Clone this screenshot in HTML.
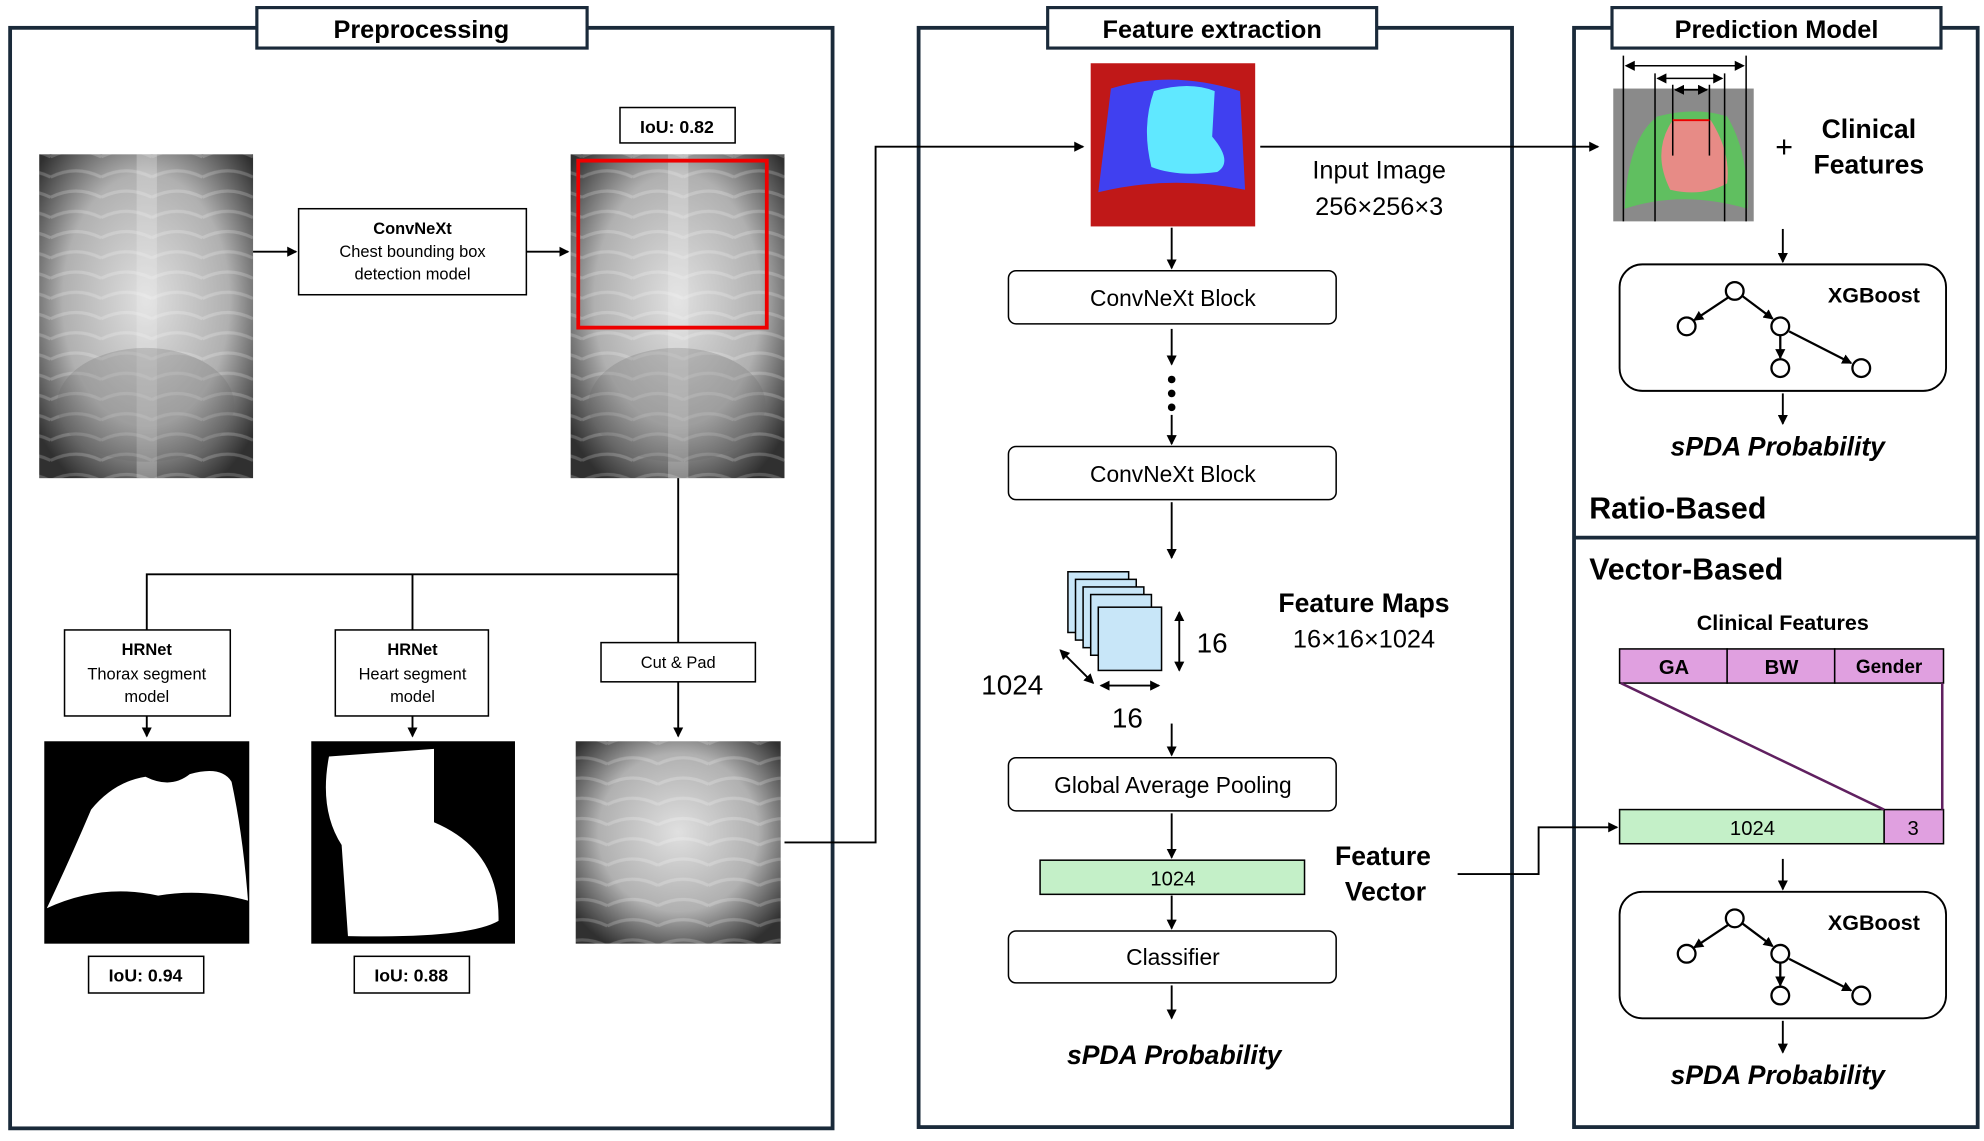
<!DOCTYPE html>
<html><head><meta charset="utf-8"><style>
html,body{margin:0;padding:0;background:#fff;width:1984px;height:1141px;overflow:hidden}
svg{display:block}
text{font-family:"Liberation Sans",sans-serif;fill:#000}
</style></head><body>
<svg width="1984" height="1141" viewBox="0 0 1568 902" preserveAspectRatio="none" xmlns="http://www.w3.org/2000/svg">
<defs>
<marker id="a" markerWidth="8" markerHeight="8" refX="7" refY="4" orient="auto-start-reverse" markerUnits="userSpaceOnUse"><path d="M0,0 L8,4 L0,8 z" fill="#000"/></marker>
<radialGradient id="xr" cx="50%" cy="45%" r="65%"><stop offset="0" stop-color="#e0e0e0"/><stop offset="0.6" stop-color="#b0b0b0"/><stop offset="1" stop-color="#303030"/></radialGradient>
<pattern id="rib" width="40" height="16" patternUnits="userSpaceOnUse"><path d="M0,12 Q20,2 40,12" stroke="#fff" stroke-width="2.5" fill="none" opacity="0.2"/></pattern>
</defs>
<g fill="none" stroke="#1a2a3a" stroke-width="3">
<rect x="8" y="22" width="650" height="870"/>
<rect x="726" y="22" width="469" height="869"/>
<rect x="1244" y="22" width="319" height="869"/>
<line x1="1244" y1="425" x2="1563" y2="425"/>
</g>
<g fill="#fff" stroke="#1a2a3a" stroke-width="2.5">
<rect x="203" y="6" width="261" height="32"/>
<rect x="828" y="6" width="260" height="32"/>
<rect x="1274" y="6" width="260" height="32"/>
</g>
<g font-size="20" font-weight="bold" text-anchor="middle">
<text x="333" y="30">Preprocessing</text>
<text x="958" y="30">Feature extraction</text>
<text x="1404" y="30">Prediction Model</text>
</g>
<g id="xray1">
<rect x="31" y="122" width="169" height="256" fill="url(#xr)"/><rect x="31" y="122" width="169" height="256" fill="url(#rib)"/>
<rect x="108" y="122" width="16" height="256" fill="#eee" opacity="0.3"/>
<ellipse cx="115" cy="320" rx="70" ry="45" fill="#666" opacity="0.25"/>
</g>
<use href="#xray1" transform="translate(420,0)"/>
<rect x="457" y="127" width="149" height="132" fill="none" stroke="#e00" stroke-width="3"/>
<rect x="490" y="85" width="91" height="28" fill="#fff" stroke="#000" stroke-width="1.2"/>
<text x="535" y="105" font-size="14" font-weight="bold" text-anchor="middle">IoU: 0.82</text>
<rect x="236" y="165" width="180" height="68" fill="#fff" stroke="#000" stroke-width="1.2"/>
<text x="326" y="185" font-size="13" font-weight="bold" text-anchor="middle">ConvNeXt</text>
<text x="326" y="203" font-size="13" text-anchor="middle">Chest bounding box</text>
<text x="326" y="221" font-size="13" text-anchor="middle">detection model</text>
<g stroke="#000" stroke-width="1.5" fill="none">
<line x1="200" y1="199" x2="234" y2="199" marker-end="url(#a)"/>
<line x1="416" y1="199" x2="449" y2="199" marker-end="url(#a)"/>
<polyline points="536,378 536,454 116,454 116,498"/>
<line x1="326" y1="454" x2="326" y2="498"/>
<line x1="536" y1="454" x2="536" y2="508"/>
<line x1="116" y1="566" x2="116" y2="582" marker-end="url(#a)"/>
<line x1="326" y1="566" x2="326" y2="582" marker-end="url(#a)"/>
<line x1="536" y1="539" x2="536" y2="582" marker-end="url(#a)"/>
<polyline points="620,666 692,666 692,116 856,116" marker-end="url(#a)"/>
<line x1="996" y1="116" x2="1263" y2="116" marker-end="url(#a)"/>
<polyline points="1152,691 1216,691 1216,654 1278,654" marker-end="url(#a)"/>
</g>
<g fill="#fff" stroke="#000" stroke-width="1.2">
<rect x="51" y="498" width="131" height="68"/><rect x="265" y="498" width="121" height="68"/><rect x="475" y="508" width="122" height="31"/>
<rect x="70" y="756" width="91" height="29"/><rect x="280" y="756" width="91" height="29"/>
</g>
<g font-size="13" text-anchor="middle">
<text x="116" y="518" font-weight="bold">HRNet</text><text x="116" y="537">Thorax segment</text><text x="116" y="555">model</text>
<text x="326" y="518" font-weight="bold">HRNet</text><text x="326" y="537">Heart segment</text><text x="326" y="555">model</text>
<text x="536" y="528">Cut &amp; Pad</text>
<text x="115" y="776" font-size="14" font-weight="bold">IoU: 0.94</text>
<text x="325" y="776" font-size="14" font-weight="bold">IoU: 0.88</text>
</g>
<rect x="35" y="586" width="162" height="160" fill="#000"/>
<path d="M37,718 Q55,680 72,640 Q90,618 115,614 Q135,624 150,612 Q175,605 183,618 Q192,660 196,712 Q160,702 125,708 Q80,698 37,718z" fill="#fff"/>
<rect x="246" y="586" width="161" height="160" fill="#000"/>
<path d="M260,598 L343,592 L343,650 Q395,672 394,728 Q370,742 275,740 L270,668 Q252,640 260,598z" fill="#fff"/>
<rect x="455" y="586" width="162" height="160" fill="url(#xr)"/><rect x="455" y="586" width="162" height="160" fill="url(#rib)"/>
<rect x="862" y="50" width="130" height="129" fill="#c01818"/>
<path d="M878,70 Q925,55 980,72 L984,150 Q925,138 868,152z" fill="#4040f0"/>
<path d="M912,72 Q940,64 960,72 L958,108 Q975,128 962,136 Q930,140 910,132 Q902,100 912,72z" fill="#60e8ff"/>
<text x="1090" y="141" font-size="20" text-anchor="middle">Input Image</text>
<text x="1090" y="170" font-size="20" text-anchor="middle">256×256×3</text>
<g fill="#fff" stroke="#000" stroke-width="1.2">
<rect x="797" y="214" width="259" height="42" rx="6"/><rect x="797" y="353" width="259" height="42" rx="6"/>
<rect x="797" y="599" width="259" height="42" rx="6"/><rect x="797" y="736" width="259" height="41" rx="6"/>
</g>
<rect x="822" y="680" width="209" height="27" fill="#c4f0c8" stroke="#000" stroke-width="1.2"/>
<g font-size="18" text-anchor="middle">
<text x="927" y="242">ConvNeXt Block</text><text x="927" y="381">ConvNeXt Block</text>
<text x="927" y="627">Global Average Pooling</text><text x="927" y="763">Classifier</text>
<text x="927" y="700" font-size="16">1024</text>
</g>
<g stroke="#000" stroke-width="1.5">
<line x1="926" y1="180" x2="926" y2="212" marker-end="url(#a)"/>
<line x1="926" y1="260" x2="926" y2="288" marker-end="url(#a)"/>
<line x1="926" y1="328" x2="926" y2="351" marker-end="url(#a)"/>
<line x1="926" y1="397" x2="926" y2="441" marker-end="url(#a)"/>
<line x1="926" y1="572" x2="926" y2="597" marker-end="url(#a)"/>
<line x1="926" y1="643" x2="926" y2="678" marker-end="url(#a)"/>
<line x1="926" y1="708" x2="926" y2="734" marker-end="url(#a)"/>
<line x1="926" y1="779" x2="926" y2="805" marker-end="url(#a)"/>
<line x1="932" y1="484" x2="932" y2="530" marker-start="url(#a)" marker-end="url(#a)"/>
<line x1="838" y1="514" x2="864" y2="540" marker-start="url(#a)" marker-end="url(#a)"/>
<line x1="870" y1="542" x2="916" y2="542" marker-start="url(#a)" marker-end="url(#a)"/>
</g>
<g fill="#000"><circle cx="926" cy="300" r="3"/><circle cx="926" cy="311" r="3"/><circle cx="926" cy="322" r="3"/></g>
<g fill="#c8e6f8" stroke="#000" stroke-width="1.2">
<rect x="844" y="452" width="48" height="48"/><rect x="850" y="458" width="48" height="48"/><rect x="856" y="464" width="48" height="48"/><rect x="862" y="470" width="48" height="48"/><rect x="868" y="480" width="50" height="50"/>
</g>
<text x="958" y="516" font-size="22" text-anchor="middle">16</text>
<text x="800" y="549" font-size="22" text-anchor="middle">1024</text>
<text x="891" y="575" font-size="22" text-anchor="middle">16</text>
<text x="1078" y="484" font-size="21" font-weight="bold" text-anchor="middle">Feature Maps</text>
<text x="1078" y="512" font-size="20" text-anchor="middle">16×16×1024</text>
<text x="1093" y="684" font-size="21" font-weight="bold" text-anchor="middle">Feature</text>
<text x="1095" y="712" font-size="21" font-weight="bold" text-anchor="middle">Vector</text>
<text x="928" y="841" font-size="21" font-weight="bold" font-style="italic" text-anchor="middle">sPDA Probability</text>
<rect x="1275" y="70" width="111" height="105" fill="#8a8a8a"/>
<path d="M1284,165 Q1286,110 1310,92 Q1340,84 1365,92 Q1382,120 1381,165 Q1330,150 1284,165z" fill="#5c5" opacity="0.8"/>
<path d="M1322,95 L1352,95 Q1368,120 1365,145 Q1345,156 1320,150 Q1305,120 1322,95z" fill="#e88" opacity="0.95"/>
<g stroke="#000" stroke-width="1.2">
<line x1="1283" y1="44" x2="1283" y2="175"/><line x1="1380" y1="44" x2="1380" y2="175"/>
<line x1="1308" y1="58" x2="1308" y2="175"/><line x1="1363" y1="58" x2="1363" y2="175"/>
<line x1="1322" y1="67" x2="1322" y2="123"/><line x1="1351" y1="67" x2="1351" y2="123"/>
<line x1="1285" y1="52" x2="1378" y2="52" marker-end="url(#a)" marker-start="url(#a)"/>
<line x1="1310" y1="62" x2="1361" y2="62" marker-end="url(#a)" marker-start="url(#a)"/>
<line x1="1324" y1="71" x2="1349" y2="71" marker-end="url(#a)" marker-start="url(#a)"/>
</g>
<line x1="1322" y1="95" x2="1351" y2="95" stroke="#e00" stroke-width="1.5"/>
<text x="1410" y="124" font-size="24" text-anchor="middle">+</text>
<text x="1477" y="109" font-size="21" font-weight="bold" text-anchor="middle">Clinical</text>
<text x="1477" y="137" font-size="21" font-weight="bold" text-anchor="middle">Features</text>
<g fill="#fff" stroke="#000" stroke-width="1.5">
<rect x="1280" y="209" width="258" height="100" rx="18"/><rect x="1280" y="705" width="258" height="100" rx="18"/>
</g>
<g id="tree" stroke="#000" stroke-width="1.8" fill="#fff">
<line x1="1366" y1="235" x2="1339" y2="253" marker-end="url(#a)"/>
<line x1="1377" y1="234" x2="1401" y2="252" marker-end="url(#a)"/>
<line x1="1407" y1="265" x2="1407" y2="283" marker-end="url(#a)"/>
<line x1="1414" y1="262" x2="1463" y2="287" marker-end="url(#a)"/>
<circle cx="1371" cy="230" r="7"/><circle cx="1333" cy="258" r="7"/><circle cx="1407" cy="258" r="7"/><circle cx="1407" cy="291" r="7"/><circle cx="1471" cy="291" r="7"/>
</g>
<use href="#tree" transform="translate(0,496)"/>
<text x="1481" y="239" font-size="17" font-weight="bold" text-anchor="middle">XGBoost</text>
<text x="1481" y="735" font-size="17" font-weight="bold" text-anchor="middle">XGBoost</text>
<g stroke="#000" stroke-width="1.5">
<line x1="1409" y1="181" x2="1409" y2="207" marker-end="url(#a)"/>
<line x1="1409" y1="311" x2="1409" y2="335" marker-end="url(#a)"/>
<line x1="1409" y1="679" x2="1409" y2="703" marker-end="url(#a)"/>
<line x1="1409" y1="807" x2="1409" y2="832" marker-end="url(#a)"/>
</g>
<text x="1405" y="360" font-size="21" font-weight="bold" font-style="italic" text-anchor="middle">sPDA Probability</text>
<text x="1405" y="857" font-size="21" font-weight="bold" font-style="italic" text-anchor="middle">sPDA Probability</text>
<text x="1256" y="410" font-size="24" font-weight="bold">Ratio-Based</text>
<text x="1256" y="458" font-size="24" font-weight="bold">Vector-Based</text>
<text x="1409" y="498" font-size="17" font-weight="bold" text-anchor="middle">Clinical Features</text>
<g fill="#e0a0e0" stroke="#000" stroke-width="1.2">
<rect x="1280" y="513" width="85" height="27"/><rect x="1365" y="513" width="85" height="27"/><rect x="1450" y="513" width="86" height="27"/>
<rect x="1489" y="640" width="47" height="27"/>
</g>
<rect x="1280" y="640" width="209" height="27" fill="#c4f0c8" stroke="#000" stroke-width="1.2"/>
<g stroke="#602060" stroke-width="2"><line x1="1281" y1="540" x2="1489" y2="640"/><line x1="1535" y1="540" x2="1535" y2="640"/></g>
<g font-size="16" text-anchor="middle">
<text x="1323" y="533" font-weight="bold">GA</text><text x="1408" y="533" font-weight="bold">BW</text><text x="1493" y="532" font-size="15" font-weight="bold">Gender</text>
<text x="1385" y="660">1024</text><text x="1512" y="660">3</text>
</g>
</svg>
</body></html>
